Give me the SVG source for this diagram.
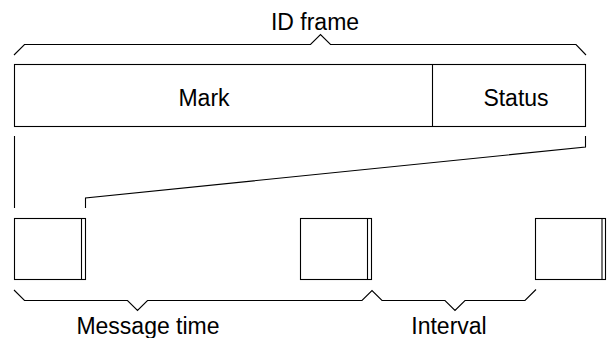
<svg xmlns="http://www.w3.org/2000/svg" width="607" height="338" viewBox="0 0 607 338">
<style>
.ln{fill:none;stroke:#000;stroke-width:1.1}
.bx{fill:#fff;stroke:#000;stroke-width:1.1}
.t{font-family:"Liberation Sans",Arial,sans-serif;font-size:23px;fill:#000}
</style>
<rect width="607" height="338" fill="#fff"/>
<g id="frame">
<rect class="bx" x="14.5" y="64.5" width="571" height="62"/>
<line class="ln" x1="432.5" y1="64.5" x2="432.5" y2="126.5"/>
</g>
<g id="mark"><text class="t" x="204" y="106" text-anchor="middle">Mark</text></g>
<g id="status"><text class="t" x="516" y="106" text-anchor="middle">Status</text></g>
<g id="idframe">
<path class="ln" d="M14,55 L24.5,44.5 L310.5,44.5 L320.5,34.5 L330.5,44.5 L576,44.5 L586,55"/>
<text class="t" x="315" y="30" text-anchor="middle">ID frame</text>
</g>
<g id="box1">
<rect class="bx" x="14.5" y="218.5" width="71" height="61"/>
<line class="ln" x1="81.5" y1="218.5" x2="81.5" y2="279.5"/>
</g>
<g id="box2">
<rect class="bx" x="300.5" y="218.5" width="71" height="61"/>
<line class="ln" x1="367.5" y1="218.5" x2="367.5" y2="279.5"/>
</g>
<g id="box3">
<rect class="bx" x="535.5" y="218.5" width="70" height="61"/>
<line class="ln" x1="602" y1="218.5" x2="602" y2="279.5"/>
</g>
<g id="connectors">
<line class="ln" x1="14.5" y1="136" x2="14.5" y2="208"/>
<path class="ln" d="M85.5,208 L85.5,198 L585.5,147 L585.5,136"/>
</g>
<g id="msgtime">
<path class="ln" d="M14,290 L24.5,300.5 L127.5,300.5 L137.5,310.5 L147.5,300.5 L362,300.5 L372,290.5 L382,300.5 L445,300.5 L455,310.5 L465,300.5 L525,300.5 L536,289.5"/>
<text class="t" x="148" y="334" text-anchor="middle">Message time</text>
</g>
<g id="interval">
<text class="t" x="449" y="334" text-anchor="middle">Interval</text>
</g>
</svg>
